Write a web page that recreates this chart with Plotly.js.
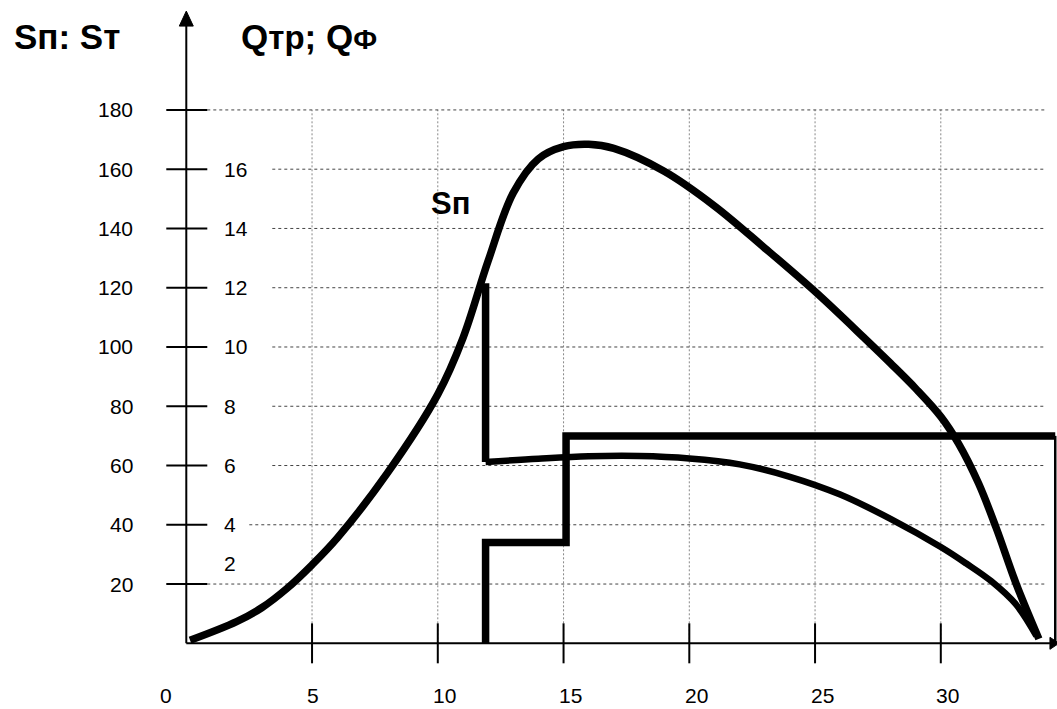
<!DOCTYPE html>
<html>
<head>
<meta charset="utf-8">
<script src="https://cdn.plot.ly/plotly-3.0.1.min.js"></script>
<style>html,body{margin:0;padding:0;background:#fff;}#chart{width:1057px;height:709px;}</style>
</head>
<body>
<div id="chart"></div>
<script>
// ---- data (left scale units; right scale = left / 10) ----
const snX = [0.15, 2, 3, 4, 5, 6, 8, 10, 11, 12, 13, 14, 15, 16, 17, 19, 21, 23, 25, 27, 28, 29, 30, 30.7, 31.5, 32.2, 33.0, 33.9];
const snY = [1, 7.3, 12, 18.5, 26.5, 35.5, 57.5, 84, 103, 129, 152, 163.5, 167.6, 168.4, 167, 159.3, 147.6, 133.4, 118.7, 102.7, 94.5, 86, 76.5, 67.5, 54, 39, 20, 1.5];

const qDropX = [11.9, 11.9];
const qDropY = [121.5, 61.2];
const qCurveX = [11.9, 14, 16, 18, 20, 22, 24, 26, 28, 30, 31, 32, 33, 33.8];
const qCurveY = [61.2, 62.3, 63.1, 63.2, 62.4, 60.4, 56.2, 50.2, 42, 32.5, 27, 21, 13, 2.5];

const stepX = [11.9, 11.9, 15.1, 15.1, 34.55];
const stepY = [0, 34, 34, 70, 70];
const stepEndX = [34.55, 34.55];
const stepEndY = [70, 0];

const xTicks = [5, 10, 15, 20, 25, 30];
const xTickLabels = ['0', '5', '10', '15', '20', '25', '30'];
const xLabelPos = [0, 5, 10, 15, 20, 25, 30];
const yTicks = [20, 40, 60, 80, 100, 120, 140, 160, 180];
const yLeftLabels = ['20', '40', '60', '80', '100', '120', '140', '160', '180'];
const yRightVals = [2, 4, 6, 8, 10, 12, 14, 16];

// ---- layout helpers ----
const W = 1057, H = 709;
const FONT = 'Liberation Sans, Arial, sans-serif';
const xRange = [-7.407, 34.62];
const yRange = [-22.17, 217.1];

const traces = [
  {x: snX, y: snY, mode: 'lines', line: {color: '#000', width: 7.5, shape: 'spline', smoothing: 1}, hoverinfo: 'skip'},
  {x: qDropX, y: qDropY, mode: 'lines', line: {color: '#000', width: 7.5}, hoverinfo: 'skip'},
  {x: qCurveX, y: qCurveY, mode: 'lines', line: {color: '#000', width: 6.5, shape: 'spline', smoothing: 1}, hoverinfo: 'skip'},
  {x: stepX, y: stepY, mode: 'lines', line: {color: '#000', width: 7.5}, hoverinfo: 'skip'},
  {x: stepEndX, y: stepEndY, mode: 'lines', line: {color: '#000', width: 2.5}, hoverinfo: 'skip'}
];

const shapes = [];
// vertical gridlines
xTicks.forEach(v => shapes.push({type: 'line', xref: 'x', yref: 'y', x0: v, x1: v, y0: 0, y1: 180,
  line: {color: '#888', width: 1, dash: '2px,2px'}, layer: 'below'}));
// horizontal gridlines
yTicks.forEach(v => {
  let start = 86;
  if (v === 180 || v === 20) start = 21;
  else if (v === 40) start = 63;
  shapes.push({type: 'line', xref: 'x', yref: 'y', xsizemode: 'pixel', xanchor: 0, x0: start, x1: 860, y0: v, y1: v,
    line: {color: '#444', width: 1, dash: '3px,3px'}, layer: 'below'});
});
// y ticks
yTicks.forEach(v => shapes.push({type: 'line', xref: 'x', yref: 'y', xsizemode: 'pixel', xanchor: 0, x0: -20, x1: 21, y0: v, y1: v,
  line: {color: '#000', width: 2}}));
// x ticks
xTicks.forEach(v => shapes.push({type: 'line', xref: 'x', yref: 'y', ysizemode: 'pixel', yanchor: 0, y0: -20, y1: 20, x0: v, x1: v,
  line: {color: '#000', width: 2}}));
// axes
shapes.push({type: 'line', xref: 'x', yref: 'y', x0: 0, x1: 0, y0: 0, y1: 208.3, line: {color: '#000', width: 2}});
shapes.push({type: 'line', xref: 'x', yref: 'y', x0: 0, x1: 34.34, y0: 0, y1: 0, line: {color: '#000', width: 2}});
// arrowheads
shapes.push({type: 'path', xref: 'x', yref: 'y', xsizemode: 'pixel', ysizemode: 'pixel', xanchor: 0, yanchor: 208.3,
  path: 'M-7,0 L7,0 L0,15 Z', fillcolor: '#000', line: {color: '#000', width: 1}});
shapes.push({type: 'path', xref: 'x', yref: 'y', xsizemode: 'pixel', ysizemode: 'pixel', xanchor: 34.34, yanchor: 0,
  path: 'M0,-6 L0,6 L9,0 Z', fillcolor: '#000', line: {color: '#000', width: 1}});

const annotations = [];
yTicks.forEach((v, i) => annotations.push({xref: 'paper', yref: 'y', x: 135 / W, y: v, xanchor: 'right', yanchor: 'middle',
  text: yLeftLabels[i], showarrow: false, font: {family: FONT, size: 21, color: '#000'}}));
yRightVals.forEach(v => annotations.push({xref: 'paper', yref: 'y', x: 222 / W, y: v * 10, xanchor: 'left', yanchor: 'middle',
  yshift: v === 2 ? 21 : 0,
  text: String(v), showarrow: false, font: {family: FONT, size: 21, color: '#000'}}));
xTickLabels.forEach((t, i) => annotations.push({xref: 'x', yref: 'paper', x: xLabelPos[i], y: 1 - 695 / H, xanchor: 'center', yanchor: 'middle',
  xshift: i === 0 ? -20 : (t.length > 1 ? 7 : 1),
  text: t, showarrow: false, font: {family: FONT, size: 21, color: '#000'}}));
annotations.push({xref: 'paper', yref: 'paper', x: 12 / W, y: 1 - 36 / H, xanchor: 'left', yanchor: 'middle',
  text: '<b>Sп: Sт</b>', showarrow: false, font: {family: FONT, size: 35, color: '#000'}});
annotations.push({xref: 'paper', yref: 'paper', x: 239 / W, y: 1 - 36 / H, xanchor: 'left', yanchor: 'middle',
  text: '<b>Q<span style="font-size:33px">тр</span>; Q<span style="font-size:28px">Ф</span></b>', showarrow: false, font: {family: FONT, size: 35, color: '#000'}});
annotations.push({xref: 'x', yref: 'y', x: 10.52, y: 148.3, xanchor: 'center', yanchor: 'middle',
  text: '<b>Sп</b>', showarrow: false, font: {family: FONT, size: 31, color: '#000'}});

const layout = {
  width: W, height: H,
  margin: {l: 0, r: 0, t: 0, b: 0, pad: 0},
  paper_bgcolor: '#fff', plot_bgcolor: '#fff',
  showlegend: false,
  xaxis: {range: xRange, visible: false, fixedrange: true},
  yaxis: {range: yRange, visible: false, fixedrange: true},
  shapes: shapes,
  annotations: annotations
};

Plotly.newPlot('chart', traces, layout, {staticPlot: true, displayModeBar: false});
</script>
</body>
</html>
